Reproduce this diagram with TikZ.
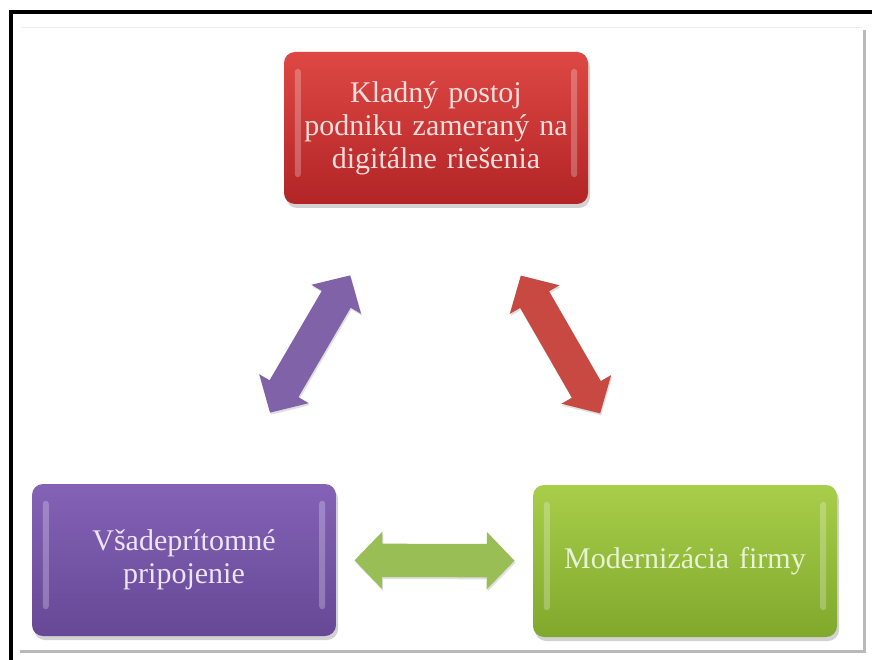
\documentclass[tikz,border=0pt]{standalone}
\usepackage{fontspec}
\setmainfont{Liberation Serif}
\usetikzlibrary{shapes.arrows,shadows,calc}
\definecolor{redTop}{RGB}{222,72,68}
\definecolor{redBot}{RGB}{178,36,38}
\definecolor{purTop}{RGB}{132,98,182}
\definecolor{purBot}{RGB}{102,72,150}
\definecolor{grnTop}{RGB}{168,206,74}
\definecolor{grnBot}{RGB}{128,168,44}
\definecolor{arrPur}{RGB}{128,98,168}
\definecolor{arrRed}{RGB}{200,72,66}
\definecolor{arrGrn}{RGB}{154,190,86}
\definecolor{txtRed}{RGB}{252,222,220}
\definecolor{txtPur}{RGB}{238,228,248}
\definecolor{txtGrn}{RGB}{232,242,212}
\begin{document}
\begin{tikzpicture}[x=1pt,y=-1pt,
  box/.style={rounded corners=11pt, minimum width=304pt, minimum height=152pt,
    text width=290pt, align=center, inner sep=0pt,
    font=\fontsize{30}{33}\selectfont,
    drop shadow={shadow xshift=2pt, shadow yshift=-4pt, opacity=0.35}},
  hilite/.style={fill=white, opacity=0.25, rounded corners=3pt},
  dbl/.style={double arrow, double arrow head extend=12pt, double arrow tip angle=92,
    minimum height=159pt, inner xsep=0pt, inner ysep=16.5pt, sloped,
    drop shadow={shadow xshift=1pt, shadow yshift=-2pt, opacity=0.25}}]
\useasboundingbox (0,0) rectangle (872,660);
\fill[white] (0,0) rectangle (872,660);
% frame
\draw[line width=4pt] (11,660) -- (11,12) -- (872,12);
\draw[gray!15, line width=1pt] (22,28) -- (862,28);
\draw[gray!55, line width=3pt] (864,30) -- (864,652);
\draw[gray!55, line width=3pt] (20,651) -- (866,651);
% boxes
\node[box, top color=redTop, bottom color=redBot, text=txtRed] (red) at (436,128)
  {Kladný postoj\\podniku zameraný na\\digitálne riešenia};
\node[box, top color=purTop, bottom color=purBot, text=txtPur] (pur) at (184,560)
  {Všadeprítomné\\pripojenie};
\node[box, top color=grnTop, bottom color=grnBot, text=txtGrn] (grn) at (685,561)
  {Modernizácia firmy};
% bevel highlights
\foreach \n in {red,pur,grn}{
  \fill[hilite] ([xshift=11pt,yshift=-17pt]\n.north west) rectangle ([xshift=17pt,yshift=27pt]\n.south west);
  \fill[hilite] ([xshift=-17pt,yshift=-17pt]\n.north east) rectangle ([xshift=-11pt,yshift=27pt]\n.south east);
}
% connectors
\path (pur) -- node[dbl, fill=arrPur] {} (red);
\path (red) -- node[dbl, fill=arrRed] {} (grn);
\path (pur) -- node[dbl, fill=arrGrn, minimum height=160pt] {} (grn);
\end{tikzpicture}
\end{document}
